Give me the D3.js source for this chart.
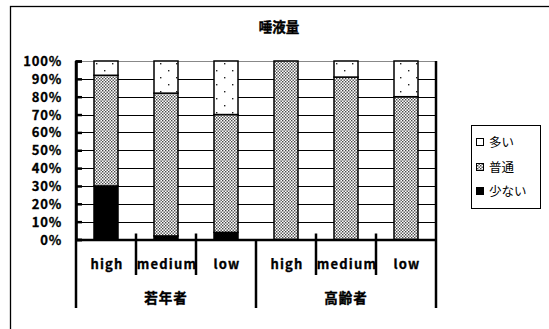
<!DOCTYPE html>
<html>
<head>
<meta charset="utf-8">
<script src="https://cdn.jsdelivr.net/npm/d3@7"></script>
<style>
  html, body { margin: 0; padding: 0; background: #fff; }
  svg { display: block; }
  text { font-family: "Noto Sans CJK JP", "DejaVu Sans", sans-serif; }
</style>
</head>
<body>
<svg id="chart" width="549" height="329"></svg>
<script>
// Saliva volume, share of responses (%) per group and level
const groups = ["若年者", "高齢者"];
const levels = ["high", "medium", "low"];
const seriesNames = ["少ない", "普通", "多い"];
const sukunai = [30, 2, 4, 0, 0, 0];
const futsuu  = [62, 80, 66, 100, 91, 80];
const ooi     = [8, 18, 30, 0, 9, 20];
const yTicks = [0, 10, 20, 30, 40, 50, 60, 70, 80, 90, 100];

const categories = [];
groups.forEach((g, gi) => levels.forEach((l, li) => categories.push({ key: g + "-" + l, group: g, level: l, i: gi * levels.length + li })));

const rows = categories.map((c, i) => ({ key: c.key, "少ない": sukunai[i], "普通": futsuu[i], "多い": ooi[i] }));
const stacked = d3.stack().keys(seriesNames)(rows);

const svg = d3.select("#chart");
const plot = { left: 76, right: 436, top: 61, bottom: 239.5 };

// Pattern fills
const defs = svg.append("defs");
const pDense = defs.append("pattern").attr("id", "dense").attr("patternUnits", "userSpaceOnUse")
  .attr("width", 3).attr("height", 3);
pDense.append("rect").attr("width", 3).attr("height", 3).attr("fill", "#fff");
pDense.append("rect").attr("x", 0).attr("y", 0).attr("width", 1.4).attr("height", 1.4).attr("fill", "#444");
pDense.append("rect").attr("x", 1.5).attr("y", 1.5).attr("width", 1.4).attr("height", 1.4).attr("fill", "#444");

const pSparse = defs.append("pattern").attr("id", "sparse").attr("patternUnits", "userSpaceOnUse")
  .attr("width", 16).attr("height", 14).attr("x", 93).attr("y", 61);
pSparse.append("rect").attr("width", 16).attr("height", 14).attr("fill", "#fff");
pSparse.append("rect").attr("x", 3).attr("y", 2).attr("width", 1.4).attr("height", 1.4).attr("fill", "#222");
pSparse.append("rect").attr("x", 11).attr("y", 9).attr("width", 1.4).attr("height", 1.4).attr("fill", "#222");

const fills = { "少ない": "#000", "普通": "url(#dense)", "多い": "url(#sparse)" };

// Outer chart frame
svg.append("rect").attr("x", 10.5).attr("y", 6.5).attr("width", 560).attr("height", 340)
  .attr("fill", "none").attr("stroke", "#000").attr("stroke-width", 1.3);

// Title
svg.append("text").attr("x", 279).attr("y", 32).attr("text-anchor", "middle")
  .attr("font-size", 13.5).attr("font-weight", "bold")
  .attr("stroke", "#000").attr("stroke-width", 0.4).text("唾液量");

const x = d3.scaleBand().domain(categories.map(c => c.key)).range([plot.left, plot.right])
  .paddingInner(0.6).paddingOuter(0.3);
const xCat = d3.scaleBand().domain(categories.map(c => c.key)).range([plot.left, plot.right]).padding(0);
const y = d3.scaleLinear().domain([0, 100]).range([plot.bottom, plot.top]);

// Plot area border (gray) and gridlines
svg.append("rect").attr("x", plot.left).attr("y", plot.top + 0.5)
  .attr("width", plot.right - plot.left + 0.5).attr("height", plot.bottom - plot.top)
  .attr("fill", "none").attr("stroke", "#888").attr("stroke-width", 1);
svg.append("g").selectAll("line").data(yTicks.filter(t => t > 0 && t < 100)).join("line")
  .attr("x1", plot.left).attr("x2", plot.right)
  .attr("y1", d => Math.round(y(d)) + 0.5).attr("y2", d => Math.round(y(d)) + 0.5)
  .attr("stroke", "#000").attr("stroke-width", 1);

// Bars
svg.append("g").selectAll("g").data(stacked).join("g")
  .attr("fill", d => fills[d.key])
  .selectAll("rect").data(d => d.filter(s => s[1] - s[0] > 0)).join("rect")
  .attr("x", d => x(d.data.key))
  .attr("width", x.bandwidth())
  .attr("y", d => y(d[1]))
  .attr("height", d => y(d[0]) - y(d[1]))
  .attr("stroke", "#000").attr("stroke-width", 1.5);

// Y axis
const yAxis = svg.append("g").attr("transform", `translate(${plot.left},0)`)
  .call(d3.axisRight(y).tickValues(yTicks).tickFormat(d => d + "%").tickSize(6).tickPadding(0));
yAxis.select(".domain").attr("stroke", "#000").attr("stroke-width", 2.5);
yAxis.selectAll(".tick line").attr("stroke", "#000").attr("stroke-width", 2.5);
yAxis.selectAll(".tick text").attr("x", -14).attr("text-anchor", "end")
  .attr("font-size", 13).attr("font-weight", "bold").attr("letter-spacing", 0.8)
  .attr("fill", "#000").attr("stroke", "#000").attr("stroke-width", 0.3).attr("dy", "0.35em");

// X axis baseline
svg.append("line").attr("x1", plot.left).attr("x2", plot.right)
  .attr("y1", plot.bottom + 0.5).attr("y2", plot.bottom + 0.5)
  .attr("stroke", "#000").attr("stroke-width", 2.5);

// Category divider ticks (longer at group boundaries)
const bounds = categories.map(c => xCat(c.key)).concat([plot.right]);
svg.append("g").selectAll("line").data(bounds).join("line")
  .attr("x1", d => d).attr("x2", d => d)
  .attr("y1", (d, i) => (i === 0 || i === 6) ? plot.top : (i % 3 === 0 ? plot.bottom : plot.bottom - 6))
  .attr("y2", (d, i) => (i % 3 === 0) ? 308 : 275)
  .attr("stroke", "#000").attr("stroke-width", 2.5);

// Category labels
svg.append("g").selectAll("text").data(categories).join("text")
  .attr("x", d => xCat(d.key) + xCat.bandwidth() / 2 + 1)
  .attr("y", 269).attr("text-anchor", "middle")
  .attr("font-size", 13).attr("font-weight", "bold").attr("letter-spacing", 1.2)
  .attr("stroke", "#000").attr("stroke-width", 0.3)
  .text(d => d.level);

// Group labels
svg.append("g").selectAll("text").data(groups).join("text")
  .attr("x", (g, gi) => {
    const a = xCat(categories[gi * 3].key), b = xCat(categories[gi * 3 + 2].key) + xCat.bandwidth();
    return (a + b) / 2;
  })
  .attr("y", 303).attr("text-anchor", "middle")
  .attr("font-size", 13.5).attr("font-weight", "bold").attr("letter-spacing", 1)
  .attr("stroke", "#000").attr("stroke-width", 0.4).text(g => g);

// Legend
const legend = svg.append("g");
legend.append("rect").attr("x", 471.5).attr("y", 125.5).attr("width", 69).attr("height", 83)
  .attr("fill", "#fff").attr("stroke", "#000").attr("stroke-width", 1);
const legendOrder = ["多い", "普通", "少ない"];
const legendY = [143, 168, 192];
legendOrder.forEach((k, i) => {
  legend.append("rect").attr("x", 476.5).attr("y", legendY[i] - 4.5).attr("width", 7).attr("height", 7)
    .attr("fill", k === "多い" ? "#fff" : fills[k]).attr("stroke", "#000").attr("stroke-width", 1);
  legend.append("text").attr("x", 489).attr("y", legendY[i]).attr("dy", "0.35em")
    .attr("font-size", 12.5).text(k);
});
</script>
</body>
</html>
